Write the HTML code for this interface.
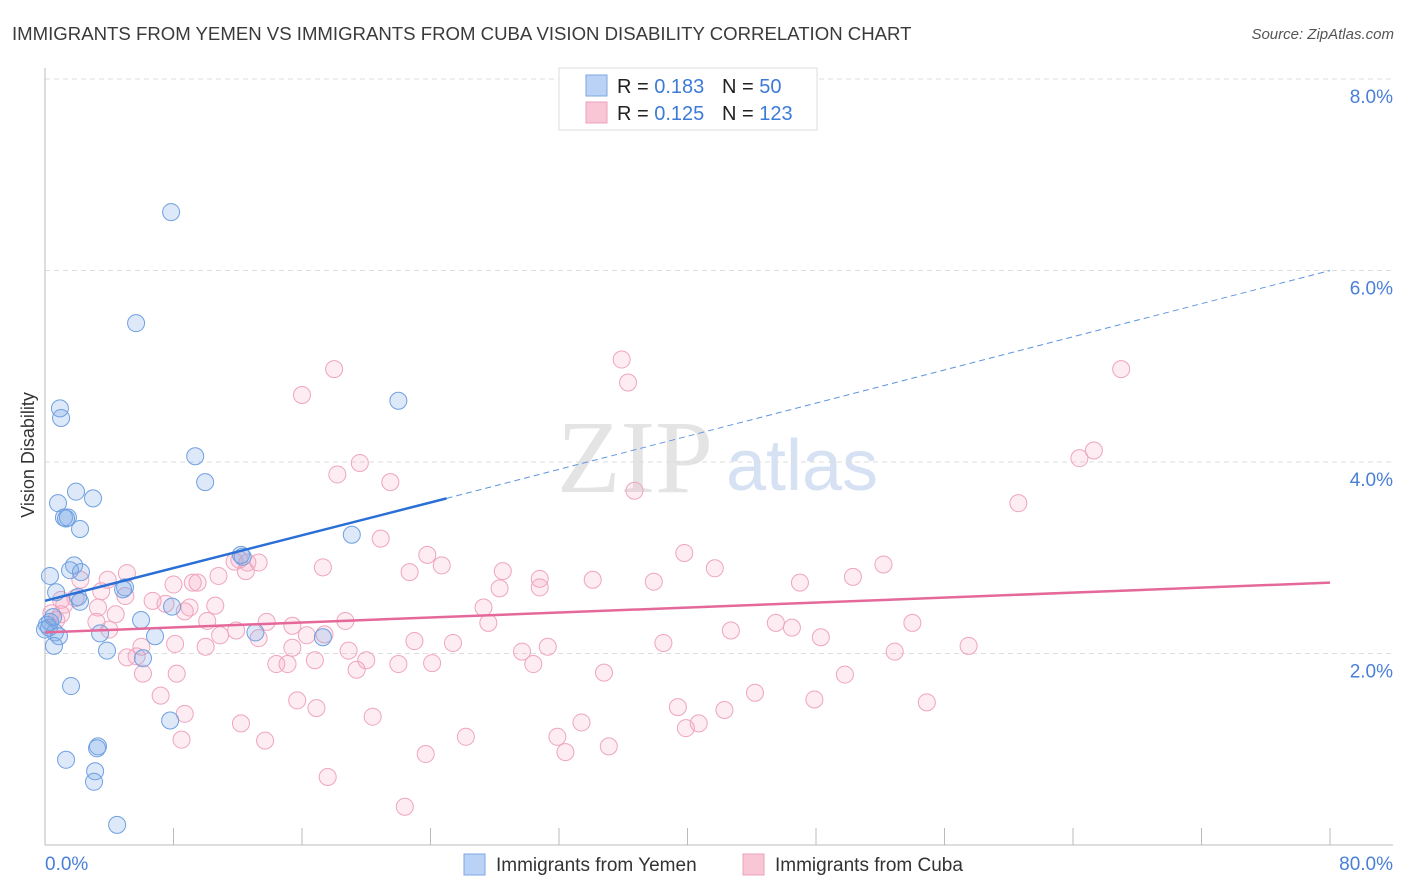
<!DOCTYPE html>
<html><head><meta charset="utf-8"><style>
body{margin:0;background:#fff;font-family:"Liberation Sans",sans-serif}
svg{display:block}
</style></head><body>
<svg id="chart" width="1406" height="892">
<text x="12" y="40" font-size="18.6" fill="#3a3a3a">IMMIGRANTS FROM YEMEN VS IMMIGRANTS FROM CUBA VISION DISABILITY CORRELATION CHART</text>
<text x="1394" y="39" font-size="15" font-style="italic" fill="#555" text-anchor="end">Source: ZipAtlas.com</text>
<text x="635" y="492" font-size="104" font-family="Liberation Serif" fill="#e4e4e4" text-anchor="middle">ZIP</text>
<text x="802" y="490" font-size="72" fill="#d6e2f4" text-anchor="middle">atlas</text>
<g id="grid"></g>
<g id="axes"></g>
<g id="marks"></g>
<text transform="translate(34,455) rotate(-90)" font-size="18" fill="#333" text-anchor="middle">Vision Disability</text>
<g>
<rect x="559" y="68" width="258" height="62" fill="#fff" stroke="#ddd"/>
<rect x="586" y="75" width="21" height="21" fill="#b9d2f5" stroke="#7ea7e3"/>
<rect x="586" y="102" width="21" height="21" fill="#f9c6d6" stroke="#eca1b9"/>
<text x="617" y="93" font-size="20" fill="#222">R = <tspan fill="#3d7bd8">0.183</tspan></text>
<text x="722" y="93" font-size="20" fill="#222">N = <tspan fill="#3d7bd8"> 50</tspan></text>
<text x="617" y="120" font-size="20" fill="#222">R = <tspan fill="#3d7bd8">0.125</tspan></text>
<text x="722" y="120" font-size="20" fill="#222">N = <tspan fill="#3d7bd8">123</tspan></text>
</g>
<g>
<rect x="464" y="854" width="21" height="21" fill="#b9d2f5" stroke="#7ea7e3"/>
<text x="496" y="871" font-size="19" fill="#333">Immigrants from Yemen</text>
<rect x="743" y="854" width="21" height="21" fill="#f9c6d6" stroke="#eca1b9"/>
<text x="775" y="871" font-size="19" fill="#333">Immigrants from Cuba</text>
</g>
</svg>
<script>
const yTicks=[2,4,6,8];
const yTickLabels=["2.0%","4.0%","6.0%","8.0%"];
const xTicks=[0,8,16,24,32,40,48,56,64,72,80];
const yemenX=[7.85,5.67,0.93,1.0,9.35,9.97,22.0,0.81,1.93,2.99,1.18,1.43,1.31,2.18,19.1,12.3,12.2,1.81,1.56,2.24,0.31,4.98,4.86,0.69,2.06,2.18,7.91,5.98,0.31,0.12,0.25,0.62,3.43,0.87,6.85,17.3,13.1,0.56,3.86,6.1,1.62,7.79,3.3,3.24,1.31,3.12,3.05,4.49,0.5,0];
const yemenY=[6.61,5.45,4.56,4.46,4.06,3.79,4.64,3.57,3.69,3.62,3.42,3.42,3.41,3.30,3.24,3.01,3.03,2.92,2.87,2.85,2.81,2.69,2.67,2.64,2.59,2.54,2.49,2.35,2.33,2.30,2.27,2.22,2.21,2.18,2.18,2.17,2.22,2.08,2.03,1.95,1.66,1.30,1.03,1.01,0.89,0.77,0.66,0.21,2.38,2.25];
const cubaX=[18.0,16.0,35.9,36.3,67.0,65.3,64.4,19.6,18.2,21.5,36.7,60.6,20.9,39.8,23.8,12.1,13.3,24.7,22.7,17.3,28.5,52.2,41.7,50.3,34.1,30.8,37.9,47.0,30.8,28.3,12.5,9.5,9.2,8.0,10.8,5.1,3.9,2.2,5.0,3.5,12.6,11.8,27.3,10.6,9.0,6.7,7.5,8.7,4.4,3.3,1.2,1.0,1.9,18.7,13.8,10.1,15.4,27.6,3.2,4.0,45.5,46.5,54.0,42.7,11.9,16.3,17.4,48.3,23.0,25.4,31.3,38.5,57.5,13.3,10.9,8.1,10.0,52.9,29.7,18.9,15.4,6.0,5.7,5.1,20.0,19.4,14.4,15.1,16.8,22.0,24.1,30.4,34.8,49.8,6.1,8.2,44.2,7.2,47.9,15.7,54.9,16.9,20.4,33.4,39.4,42.3,8.7,12.2,40.7,39.9,26.2,31.9,8.5,13.7,35.1,32.4,23.7,17.6,22.4,1.0,0.7,0.4];
const cubaY=[4.97,4.70,5.07,4.83,4.97,4.12,4.04,3.99,3.87,3.79,3.70,3.57,3.20,3.05,3.03,2.98,2.95,2.92,2.85,2.90,2.86,2.93,2.89,2.80,2.77,2.78,2.75,2.74,2.69,2.68,2.86,2.74,2.74,2.72,2.81,2.84,2.77,2.77,2.60,2.65,2.95,2.96,2.48,2.50,2.48,2.55,2.52,2.44,2.41,2.48,2.51,2.56,2.58,2.34,2.33,2.34,2.29,2.32,2.33,2.25,2.32,2.27,2.32,2.24,2.24,2.19,2.20,2.17,2.13,2.11,2.07,2.11,2.08,2.16,2.19,2.10,2.07,2.02,2.02,2.03,2.06,2.07,1.97,1.96,1.93,1.83,1.89,1.89,1.93,1.89,1.90,1.89,1.80,1.78,1.79,1.79,1.59,1.56,1.52,1.51,1.49,1.43,1.34,1.28,1.44,1.41,1.37,1.27,1.27,1.22,1.13,1.13,1.10,1.09,1.03,0.97,0.95,0.71,0.40,2.41,2.35,2.42];
const yemenTrend=[[0,2.55],[25,3.62]];
const yemenTrendExt=[[25,3.62],[80,6.0]];
const cubaTrend=[[0,2.22],[80,2.74]];

const X0=45,X1=1330,Y0=845,YPX=95.75;
const sx=v=>X0+v/80*(X1-X0);
const sy=v=>Y0-v*YPX;
const NS="http://www.w3.org/2000/svg";
function mk(parent,tag,attrs){const e=document.createElementNS(NS,tag);for(const k in attrs)e.setAttribute(k,attrs[k]);parent.appendChild(e);return e;}
const grid=document.getElementById('grid'),axes=document.getElementById('axes'),marks=document.getElementById('marks');
yTicks.forEach((t,i)=>{
  const l=mk(grid,'line',{x1:X0,x2:1393,y1:sy(t),y2:sy(t),stroke:'#ddd','stroke-dasharray':'5,4'});
  
  
  const tx=mk(grid,'text',{x:1393,y:sy(t)+24,'font-size':19,fill:'#4a7fd8','text-anchor':'end'});
  tx.textContent=yTickLabels[i];
  
  
});
const ya=mk(axes,'line',{x1:X0,x2:X0,y1:68,y2:Y0,stroke:'#bbb'});


const xa=mk(axes,'line',{x1:X0,x2:1393,y1:Y0,y2:Y0,stroke:'#bbb'});


xTicks.forEach(t=>{
  const l=mk(axes,'line',{x1:sx(t),x2:sx(t),y1:828,y2:Y0,stroke:'#bbb'});
  
  
});
const xl0=mk(axes,'text',{x:45,y:870,'font-size':19,fill:'#4a7fd8'});xl0.textContent='0.0%';


const xl1=mk(axes,'text',{x:1393,y:870,'font-size':19,fill:'#4a7fd8','text-anchor':'end'});xl1.textContent='80.0%';


cubaX.forEach((v,i)=>{
  const c=mk(marks,'circle',{cx:sx(v),cy:sy(cubaY[i]),r:8.5,fill:'rgba(244,160,188,0.2)',stroke:'#efa5bd','stroke-width':1});
  
  
});
yemenX.forEach((v,i)=>{
  const c=mk(marks,'circle',{cx:sx(v),cy:sy(yemenY[i]),r:8.5,fill:'rgba(120,168,232,0.25)',stroke:'#6fa0e0','stroke-width':1});
  
  
});
const t1=mk(marks,'line',{x1:sx(yemenTrend[0][0]),y1:sy(yemenTrend[0][1]),x2:sx(yemenTrend[1][0]),y2:sy(yemenTrend[1][1]),stroke:'#2a6fd6','stroke-width':2.5});


const t2=mk(marks,'line',{x1:sx(yemenTrendExt[0][0]),y1:sy(yemenTrendExt[0][1]),x2:sx(yemenTrendExt[1][0]),y2:sy(yemenTrendExt[1][1]),stroke:'#5f95de','stroke-width':1,'stroke-dasharray':'6,4'});


const t3=mk(marks,'line',{x1:sx(cubaTrend[0][0]),y1:sy(cubaTrend[0][1]),x2:sx(cubaTrend[1][0]),y2:sy(cubaTrend[1][1]),stroke:'#e4699a','stroke-width':2.5});


</script>
</body></html>
